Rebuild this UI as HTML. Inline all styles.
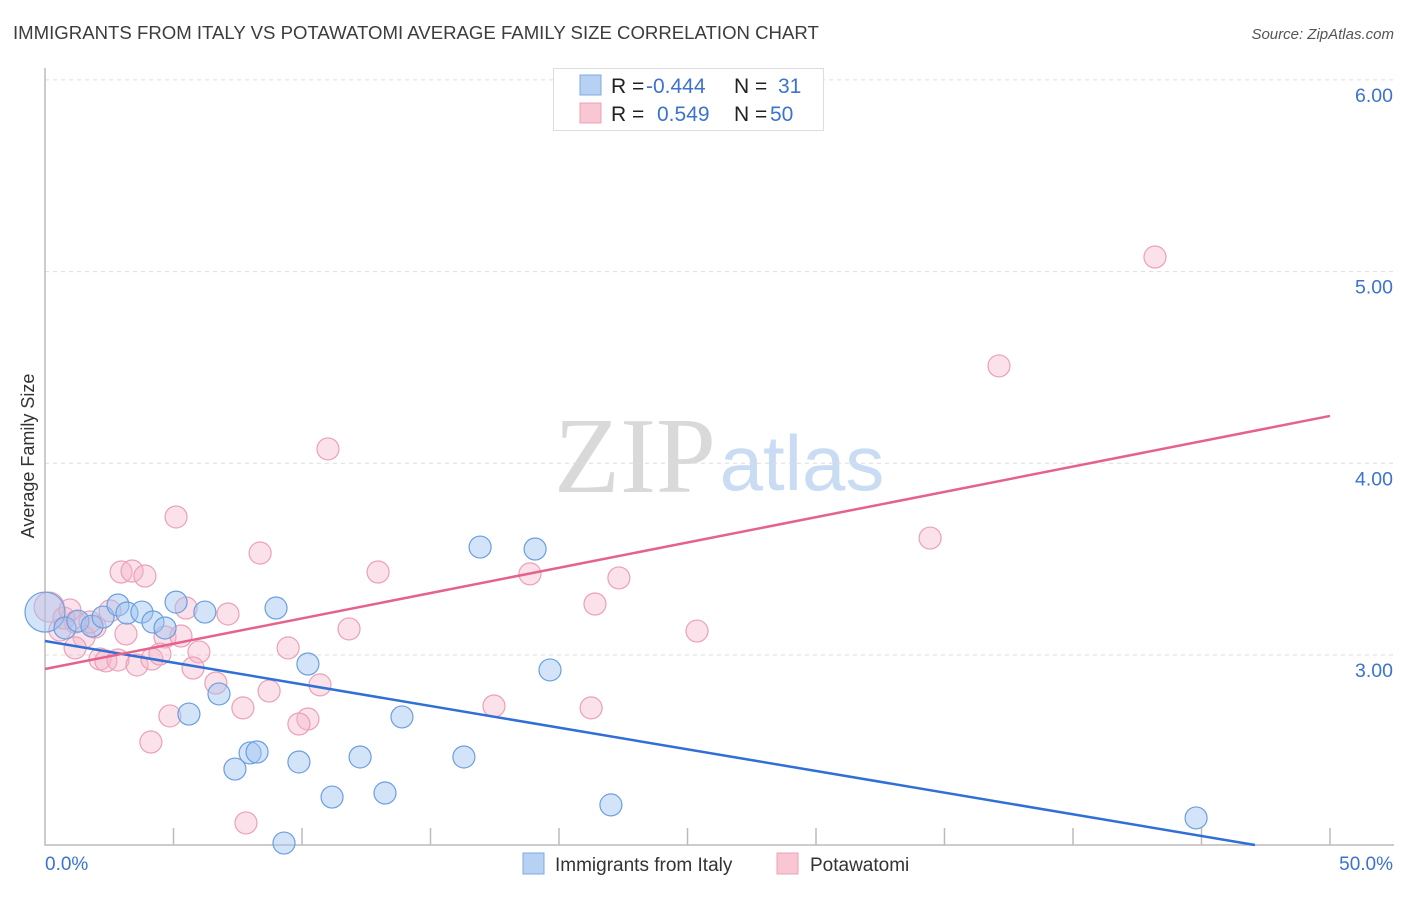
<!DOCTYPE html>
<html><head><meta charset="utf-8"><style>
body{margin:0;background:#fff;font-family:"Liberation Sans",sans-serif}
</style></head><body>
<svg width="1406" height="892" xmlns="http://www.w3.org/2000/svg" id="chart" font-family="Liberation Sans, sans-serif">
<text x="13" y="39" font-size="18.6" fill="#3c3c3c">IMMIGRANTS FROM ITALY VS POTAWATOMI AVERAGE FAMILY SIZE CORRELATION CHART</text>
<text x="1394" y="39" font-size="15" fill="#555" font-style="italic" text-anchor="end">Source: ZipAtlas.com</text>
<text x="635" y="492" font-size="108" fill="#d9d9d9" font-family="Liberation Serif, serif" text-anchor="middle">ZIP</text>
<text x="802" y="490" font-size="78" fill="#c9dcf3" text-anchor="middle">atlas</text>
<text transform="translate(34,456) rotate(-90)" font-size="18" fill="#333" text-anchor="middle">Average Family Size</text>
<g id="grid"></g><g id="pts"></g><g id="lines"></g>
<g>
<rect x="553.5" y="68.5" width="270" height="62" fill="#fff" stroke="#ddd"/>
<rect x="580" y="75" width="21" height="20" fill="#b7d1f3" stroke="#7fa8e4"/>
<rect x="580" y="103" width="21" height="20" fill="#f9c6d4" stroke="#eca0b8"/>
<text y="93" font-size="21" fill="#222"><tspan x="611">R =</tspan><tspan x="646" fill="#3b73cf">-0.444</tspan><tspan x="734">N =</tspan><tspan x="778" fill="#3b73cf">31</tspan></text>
<text y="121" font-size="21" fill="#222"><tspan x="611">R =</tspan><tspan x="657" fill="#3b73cf">0.549</tspan><tspan x="734">N =</tspan><tspan x="770" fill="#3b73cf">50</tspan></text>
</g>
<g>
<rect x="523" y="853" width="21" height="21" fill="#b7d1f3" stroke="#7fa8e4"/>
<text x="555" y="871" font-size="19" fill="#333">Immigrants from Italy</text>
<rect x="777" y="853" width="21" height="21" fill="#f9c6d4" stroke="#eca0b8"/>
<text x="810" y="871" font-size="19" fill="#333">Potawatomi</text>
</g>
</svg>
<script>
const yTicks=[3,4,5,6];
const yTickLabels=["3.00","4.00","5.00","6.00"];
const xTickLabels=["0.0%","50.0%"];
const italyX=[0,0.78,1.28,1.83,2.26,2.84,3.19,3.77,4.2,4.67,5.1,5.6,6.22,6.77,7.39,7.98,8.25,8.99,9.88,10.23,11.17,12.26,13.23,13.89,16.3,16.93,19.07,19.65,22.02,44.79,9.3];
const italyY=[3.224,3.141,3.177,3.151,3.198,3.261,3.219,3.224,3.172,3.141,3.276,2.692,3.224,2.797,2.405,2.489,2.494,3.245,2.442,2.953,2.259,2.468,2.28,2.677,2.468,3.563,3.553,2.922,2.218,2.15,2.019];
const potX=[43.19,37.12,11.01,5.1,34.44,8.37,2.96,3.39,3.89,12.96,18.87,22.33,21.4,5.49,7.12,0.16,0.58,1.17,1.95,1.52,2.53,3.15,4.67,5.29,11.83,25.37,9.46,1.17,2.14,2.37,2.84,3.58,4.16,4.47,5.99,5.76,10.7,6.65,8.72,7.7,10.23,9.88,4.86,17.47,21.25,4.12,7.82,0.74,1.75,0.97];
const potY=[5.076,4.508,4.075,3.72,3.61,3.532,3.433,3.438,3.412,3.433,3.423,3.402,3.266,3.245,3.214,3.25,3.13,3.172,3.146,3.094,3.23,3.11,3.094,3.099,3.136,3.125,3.037,3.037,2.979,2.969,2.974,2.948,2.979,3.005,3.016,2.932,2.844,2.854,2.812,2.724,2.666,2.64,2.682,2.734,2.724,2.546,2.124,3.193,3.172,3.235];
const italyTrend=[3.073,-0.0226,47.08];
const potTrend=[2.927,0.0264,50];
const NS="http://www.w3.org/2000/svg";
const X=v=>45+v/50*1285, Y=v=>655-(v-3)*191.7;
function mk(t,a,p){const e=document.createElementNS(NS,t);for(const k in a)e.setAttribute(k,a[k]);document.getElementById(p).appendChild(e);return e;}
yTicks.forEach((t,i)=>{
 const l=mk('line',{x1:45,x2:1394,y1:Y(t),y2:Y(t),stroke:'#ddd','stroke-dasharray':'4,4'},'grid');
 
 
 const tx=mk('text',{x:1393,y:Y(t)+22,'font-size':19.5,fill:'#3b73cf','text-anchor':'end'},'grid');tx.textContent=yTickLabels[i];
 
 
});
const ax=mk('path',{d:'M45 68V845H1394',fill:'none',stroke:'#bbb','stroke-width':1.5},'grid');


for(let i=1;i<=10;i++){const t=mk('line',{x1:X(i*5),x2:X(i*5),y1:828,y2:845,stroke:'#bbb','stroke-width':1.5},'grid');
 
 }
const x0=mk('text',{x:45,y:870,'font-size':19,fill:'#3b73cf'},'grid');x0.textContent=xTickLabels[0];


const x1=mk('text',{x:1393,y:870,'font-size':19,fill:'#3b73cf','text-anchor':'end'},'grid');x1.textContent=xTickLabels[1];


potX.forEach((v,i)=>{const c=mk('circle',{cx:X(v),cy:Y(potY[i]),r:i==15?15:11,fill:'rgba(246,180,200,0.4)',stroke:'#eca0b8','stroke-width':1.2},'pts');
 
 });
italyX.forEach((v,i)=>{const c=mk('circle',{cx:X(v),cy:Y(italyY[i]),r:i==0?20:11,fill:'rgba(160,196,240,0.45)',stroke:'#6a9fe0','stroke-width':1.2},'pts');
 
 });
const bl=mk('line',{x1:X(0),y1:Y(italyTrend[0]),x2:X(italyTrend[2]),y2:Y(italyTrend[0]+italyTrend[1]*italyTrend[2]),stroke:'#2f6fd6','stroke-width':2.5},'lines');


const pl=mk('line',{x1:X(0),y1:Y(potTrend[0]),x2:X(potTrend[2]),y2:Y(potTrend[0]+potTrend[1]*potTrend[2]),stroke:'#e5628c','stroke-width':2.5},'lines');


</script>
</body></html>
